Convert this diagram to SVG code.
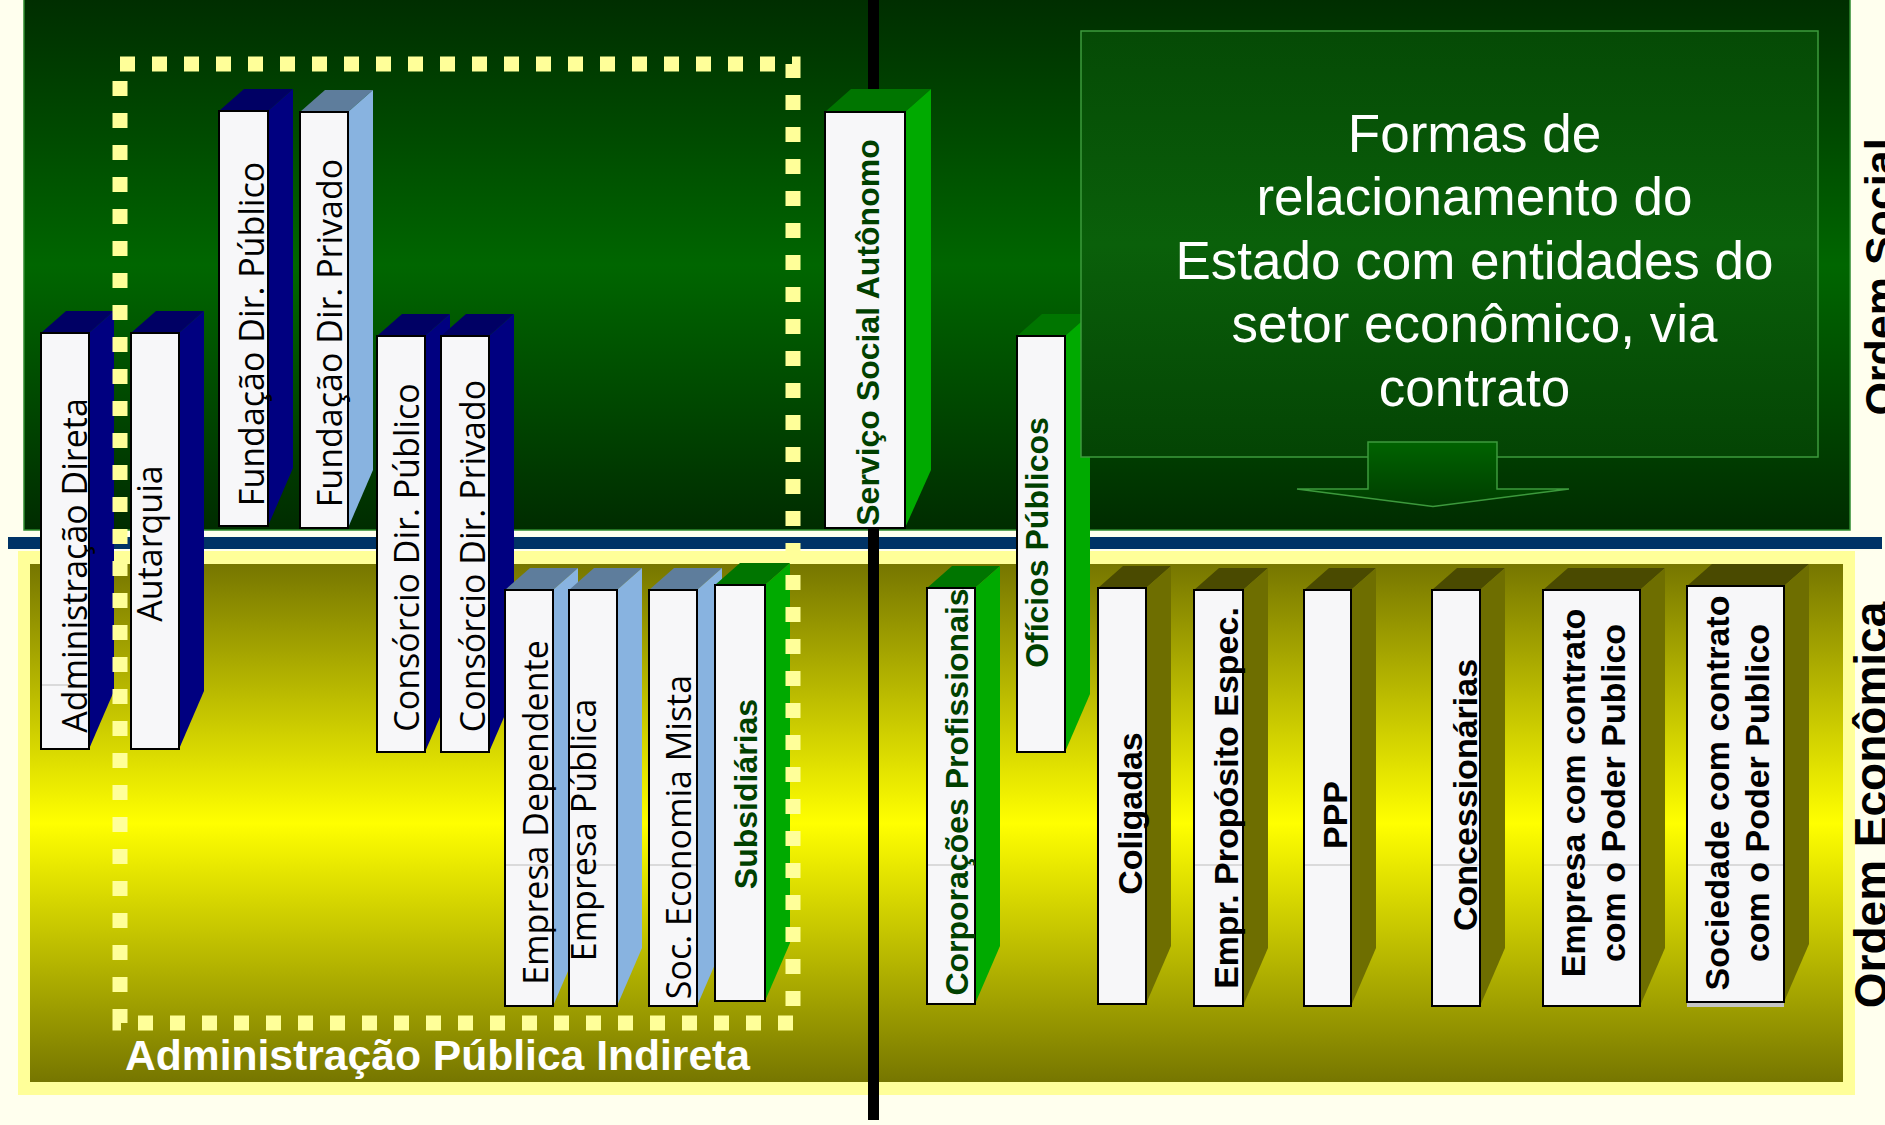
<svg xmlns="http://www.w3.org/2000/svg" width="1885" height="1125" viewBox="0 0 1885 1125">
  <defs>
    <linearGradient id="gSocial" gradientUnits="userSpaceOnUse" x1="0" y1="0" x2="0" y2="530">
      <stop offset="0" stop-color="#002e00"/>
      <stop offset="0.5" stop-color="#006600"/>
      <stop offset="1" stop-color="#002c00"/>
    </linearGradient>
    <linearGradient id="gEcon" gradientUnits="userSpaceOnUse" x1="0" y1="564" x2="0" y2="1082">
      <stop offset="0" stop-color="#767600"/>
      <stop offset="0.5" stop-color="#ffff00"/>
      <stop offset="1" stop-color="#767600"/>
    </linearGradient>
    <linearGradient id="gNote" gradientUnits="userSpaceOnUse" x1="0" y1="31" x2="0" y2="457">
      <stop offset="0" stop-color="#054a05"/>
      <stop offset="0.5" stop-color="#0a600a"/>
      <stop offset="1" stop-color="#044404"/>
    </linearGradient>
    <linearGradient id="gArrow" gradientUnits="userSpaceOnUse" x1="0" y1="441" x2="0" y2="507">
      <stop offset="0" stop-color="#006400"/>
      <stop offset="1" stop-color="#003c00"/>
    </linearGradient>
  </defs>
  <style>
    .front { fill: #f7f7f9; stroke: #000; stroke-width: 2; }
    .navy-side { fill: #000080; }
    .navy-top { fill: #000064; }
    .sky-side { fill: #88b3e0; }
    .sky-top { fill: #5e7d9c; }
    .green-side { fill: #00aa00; }
    .green-top { fill: #007500; }
    .olive-side { fill: #6e6e00; }
    .olive-top { fill: #4a4a00; }
    .seam { stroke: #bdbdbd; stroke-width: 1; }
    .lbl { font-family: "Open Sans", "DejaVu Sans", sans-serif; font-size: 34px; fill: #000; text-anchor: middle; }
    .lblb { font-family: "Liberation Sans", Arial, sans-serif; font-weight: bold; font-size: 34px; fill: #000; text-anchor: middle; }
    .lblg { font-family: "Liberation Sans", Arial, sans-serif; font-weight: bold; font-size: 32px; fill: #004000; text-anchor: middle; }
    .note { font-family: "Liberation Sans", Arial, sans-serif; font-size: 53px; fill: #fff; text-anchor: middle; }
    .order { font-family: "Liberation Sans", Arial, sans-serif; font-weight: bold; fill: #000; text-anchor: middle; }
  </style>

  <!-- background and the two bands -->
  <rect x="0" y="0" width="1885" height="1125" fill="#ffffee"/>
  <rect id="band-social" x="24" y="-2" width="1826" height="532" fill="url(#gSocial)" stroke="#2e8b2e" stroke-width="1.5"/>
  <rect x="18" y="551" width="1837" height="544" fill="#ffff99"/>
  <rect id="band-economica" x="30" y="564" width="1813" height="518" fill="url(#gEcon)"/>

  <!-- dividers -->
  <g id="connectors">
    <rect x="8" y="537" width="1874" height="12" fill="#003366"/>
    <rect x="868" y="0" width="11" height="1120" fill="#000"/>
  </g>

  <!-- Administração Direta / Indireta -->
  <g id="administracao-direta">
    <polygon class="navy-top" points="41,333 66,311 114,311 89,333"/>
    <polygon class="navy-side" points="89,333 114,311 114,691 89,749"/>
    <rect class="front" x="41" y="333" width="48" height="416"/>
    <line class="seam" x1="42" y1="685" x2="88" y2="685"/>
    <text class="lbl" transform="translate(87,565.5) rotate(-90)">Administração Direta</text>
  </g>
  <g id="autarquia">
    <polygon class="navy-top" points="131,333 156,311 204,311 179,333"/>
    <polygon class="navy-side" points="179,333 204,311 204,691 179,749"/>
    <rect class="front" x="131" y="333" width="48" height="416"/>
    <text class="lbl" transform="translate(162,543.5) rotate(-90)">Autarquia</text>
  </g>
  <g id="fundacao-publico">
    <polygon class="navy-top" points="219,111 244,89 293,89 268,111"/>
    <polygon class="navy-side" points="268,111 293,89 293,468 268,526"/>
    <rect class="front" x="219" y="111" width="49" height="415"/>
    <text class="lbl" transform="translate(263.5,334) rotate(-90)">Fundação Dir. Público</text>
  </g>
  <g id="fundacao-privado">
    <polygon class="sky-top" points="300,112 325,90 373,90 348,112"/>
    <polygon class="sky-side" points="348,112 373,90 373,470 348,528"/>
    <rect class="front" x="300" y="112" width="48" height="416"/>
    <text class="lbl" transform="translate(342,333) rotate(-90)">Fundação Dir. Privado</text>
  </g>
  <g id="consorcio-publico">
    <polygon class="navy-top" points="377,336 402,314 450,314 425,336"/>
    <polygon class="navy-side" points="425,336 450,314 450,694 425,752"/>
    <rect class="front" x="377" y="336" width="48" height="416"/>
    <text class="lbl" transform="translate(419,557.5) rotate(-90)">Consórcio Dir. Público</text>
  </g>
  <g id="consorcio-privado">
    <polygon class="navy-top" points="441,336 466,314 514,314 489,336"/>
    <polygon class="navy-side" points="489,336 514,314 514,694 489,752"/>
    <rect class="front" x="441" y="336" width="48" height="416"/>
    <text class="lbl" transform="translate(485,556) rotate(-90)">Consórcio Dir. Privado</text>
  </g>
  <g id="empresa-dependente">
    <polygon class="sky-top" points="505,590 530,568 578,568 553,590"/>
    <polygon class="sky-side" points="553,590 578,568 578,948 553,1006"/>
    <rect class="front" x="505" y="590" width="48" height="416"/>
    <line class="seam" x1="506" y1="865" x2="552" y2="865"/>
    <text class="lbl" transform="translate(548,812.5) rotate(-90)">Empresa Dependente</text>
  </g>
  <g id="empresa-publica">
    <polygon class="sky-top" points="569,590 594,568 642,568 617,590"/>
    <polygon class="sky-side" points="617,590 642,568 642,948 617,1006"/>
    <rect class="front" x="569" y="590" width="48" height="416"/>
    <line class="seam" x1="570" y1="865" x2="616" y2="865"/>
    <text class="lbl" transform="translate(596,830) rotate(-90)">Empresa Pública</text>
  </g>
  <g id="sociedade-economia-mista">
    <polygon class="sky-top" points="649,590 674,568 722,568 697,590"/>
    <polygon class="sky-side" points="697,590 722,568 722,948 697,1006"/>
    <rect class="front" x="649" y="590" width="48" height="416"/>
    <line class="seam" x1="650" y1="865" x2="696" y2="865"/>
    <text class="lbl" transform="translate(691,837) rotate(-90)">Soc. Economia Mista</text>
  </g>
  <g id="subsidiarias">
    <polygon class="green-top" points="715,585 740,563 790,563 765,585"/>
    <polygon class="green-side" points="765,585 790,563 790,943 765,1001"/>
    <rect class="front" x="715" y="585" width="50" height="416"/>
    <text class="lblg" transform="translate(757,794) rotate(-90)">Subsidiárias</text>
  </g>

  <!-- entidades paraestatais -->
  <g id="servico-social-autonomo">
    <polygon class="green-top" points="825,112 851,89 931,89 905,112"/>
    <polygon class="green-side" points="905,112 931,89 931,470 905,528"/>
    <rect class="front" x="825" y="112" width="80" height="416"/>
    <text class="lblg" transform="translate(879,332.5) rotate(-90)">Serviço Social Autônomo</text>
  </g>
  <g id="corporacoes-profissionais">
    <polygon class="green-top" points="927,588 952,566 1000,566 975,588"/>
    <polygon class="green-side" points="975,588 1000,566 1000,946 975,1004"/>
    <rect class="front" x="927" y="588" width="48" height="416"/>
    <line class="seam" x1="928" y1="865" x2="974" y2="865"/>
    <text class="lblg" transform="translate(968,792) rotate(-90)">Corporações Profissionais</text>
  </g>
  <g id="oficios-publicos">
    <polygon class="green-top" points="1017,336 1042,314 1090,314 1065,336"/>
    <polygon class="green-side" points="1065,336 1090,314 1090,694 1065,752"/>
    <rect class="front" x="1017" y="336" width="48" height="416"/>
    <text class="lblg" transform="translate(1048,542.5) rotate(-90)">Ofícios Públicos</text>
  </g>

  <!-- setor econômico via contrato -->
  <g id="coligadas">
    <polygon class="olive-top" points="1098,588 1123,566 1171,566 1146,588"/>
    <polygon class="olive-side" points="1146,588 1171,566 1171,946 1146,1004"/>
    <rect class="front" x="1098" y="588" width="48" height="416"/>
    <text class="lblb" transform="translate(1141.5,813.5) rotate(-90)">Coligadas</text>
  </g>
  <g id="empr-proposito-espec">
    <polygon class="olive-top" points="1194,590 1219,568 1268,568 1243,590"/>
    <polygon class="olive-side" points="1243,590 1268,568 1268,948 1243,1006"/>
    <rect class="front" x="1194" y="590" width="49" height="416"/>
    <line class="seam" x1="1195" y1="865" x2="1242" y2="865"/>
    <text class="lblb" transform="translate(1237.5,798) rotate(-90)">Empr. Propósito Espec.</text>
  </g>
  <g id="ppp">
    <polygon class="olive-top" points="1304,590 1329,568 1376,568 1351,590"/>
    <polygon class="olive-side" points="1351,590 1376,568 1376,948 1351,1006"/>
    <rect class="front" x="1304" y="590" width="47" height="416"/>
    <line class="seam" x1="1305" y1="865" x2="1350" y2="865"/>
    <text class="lblb" transform="translate(1347,815) rotate(-90)">PPP</text>
  </g>
  <g id="concessionarias">
    <polygon class="olive-top" points="1432,590 1457,568 1505,568 1480,590"/>
    <polygon class="olive-side" points="1480,590 1505,568 1505,948 1480,1006"/>
    <rect class="front" x="1432" y="590" width="48" height="416"/>
    <line class="seam" x1="1433" y1="865" x2="1479" y2="865"/>
    <text class="lblb" transform="translate(1477,795) rotate(-90)">Concessionárias</text>
  </g>
  <g id="empresa-contrato">
    <polygon class="olive-top" points="1543,590 1568,568 1665,568 1640,590"/>
    <polygon class="olive-side" points="1640,590 1665,568 1665,948 1640,1006"/>
    <rect class="front" x="1543" y="590" width="97" height="416"/>
    <line class="seam" x1="1544" y1="865" x2="1639" y2="865"/>
    <text class="lblb" transform="translate(1585,793) rotate(-90)"><tspan x="0" y="0">Empresa com contrato</tspan><tspan x="0" y="40">com o Poder Publico</tspan></text>
  </g>
  <g id="sociedade-contrato">
    <polygon class="olive-top" points="1687,586 1712,564 1809,564 1784,586"/>
    <polygon class="olive-side" points="1784,586 1809,564 1809,944 1784,1002"/>
    <rect x="1687" y="1002" width="97" height="5" fill="#c4c4c4"/>
    <rect class="front" x="1687" y="586" width="97" height="416"/>
    <line class="seam" x1="1688" y1="865" x2="1783" y2="865"/>
    <text class="lblb" transform="translate(1729,793) rotate(-90)"><tspan x="0" y="0">Sociedade com contrato</tspan><tspan x="0" y="40">com o Poder Publico</tspan></text>
  </g>

  <!-- grouping frame for the indirect administration -->
  <g id="administracao-indireta">
    <rect x="120" y="64" width="673" height="959" fill="none" stroke="#ffff99" stroke-width="15" stroke-dasharray="15 17"/>
    <text x="125" y="1070" font-family="'Liberation Sans', Arial, sans-serif" font-weight="bold" font-size="43" fill="#fff" textLength="625" lengthAdjust="spacingAndGlyphs">Administração Pública Indireta</text>
  </g>

  <!-- note box with downward arrow -->
  <g id="formas-relacionamento">
    <rect x="1081" y="31" width="737" height="426" fill="url(#gNote)" stroke="#3c9a3c" stroke-width="1.5"/>
    <text class="note" x="1474.5" y="151.5">Formas de</text>
    <text class="note" x="1474.5" y="215">relacionamento do</text>
    <text class="note" x="1474.5" y="278.5">Estado com entidades do</text>
    <text class="note" x="1474.5" y="342">setor econômico, via</text>
    <text class="note" x="1474.5" y="405.5">contrato</text>
    <polygon points="1368,442 1497,442 1497,489 1569,489 1433,506.5 1297,489 1368,489" fill="url(#gArrow)" stroke="#3c9a3c" stroke-width="1.5"/>
  </g>

  <!-- side captions, running off the right edge -->
  <g id="ordem-social">
    <text class="order" font-size="43" transform="translate(1895,277) rotate(-90)">Ordem Social</text>
  </g>
  <g id="ordem-economica">
    <text class="order" font-size="46" transform="translate(1887,805) rotate(-90)">Ordem Econômica</text>
  </g>
</svg>
